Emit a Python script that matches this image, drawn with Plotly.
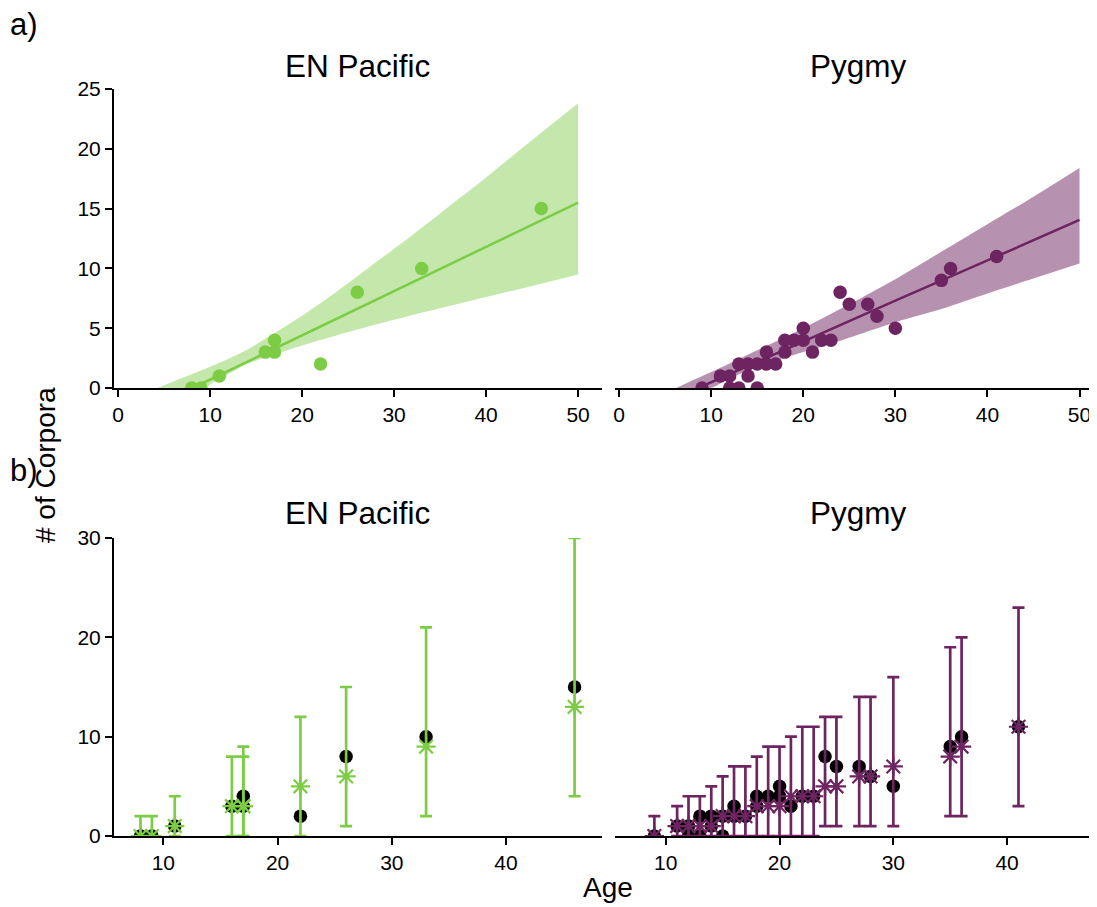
import plotly.graph_objects as go

# ---------------- data ----------------
# Panel a) observed corpora counts by age
en_age = [8, 9, 11, 16, 17, 17, 22, 26, 33, 46]
en_corpora = [0, 0, 1, 3, 4, 3, 2, 8, 10, 15]

pg_age = [9, 11, 12, 12, 13, 13, 14, 14, 15, 15, 16, 16, 17, 18, 18, 19, 20, 20,
          21, 22, 23, 24, 25, 27, 28, 30, 35, 36, 41]
pg_corpora = [0, 1, 1, 0, 0, 2, 2, 1, 0, 2, 3, 2, 2, 4, 3, 4, 5, 4,
              3, 4, 4, 8, 7, 7, 6, 5, 9, 10, 11]

# fitted lines
en_fit_age = [8.1, 20, 30, 40, 50]
en_fit = [0, 4.4, 8.1, 11.8, 15.5]
pg_fit_age = [8.6, 20, 30, 41, 50]
pg_fit = [0, 3.9, 7.3, 11.0, 14.05]

# confidence bands
en_band_age = [4.3, 6, 8, 9.5, 10, 12, 14, 17, 20, 24, 28, 32, 36, 40, 44, 50]
en_band_lo = [0, 0, 0, 0, 0.3, 1.15, 2.0, 2.8, 3.55, 4.45, 5.3, 6.1, 6.85, 7.6, 8.35, 9.5]
en_band_hi = [0, 0.55, 1.15, 1.6, 1.78, 2.45, 3.2, 4.6, 6.05, 8.2, 10.5, 12.8, 15.2, 17.6, 20.1, 23.8]

pg_band_age = [6.2, 8, 9.9, 12, 15, 20, 24, 30, 35, 40, 45, 50]
pg_band_lo = [0, 0, 0, 0.8, 1.75, 3.0, 3.95, 5.5, 6.6, 7.9, 9.15, 10.4]
pg_band_hi = [0, 0.65, 1.3, 2.05, 3.15, 5.0, 6.6, 9.1, 11.4, 13.7, 16.0, 18.4]

# Panel b) predicted values with intervals
en_pred = [0, 0, 1, 3, 3, 3, 5, 6, 9, 13]
en_pred_lo = [0, 0, 0, 0, 0, 0, 0, 1, 2, 4]
en_pred_hi = [2, 2, 4, 8, 9, 8, 12, 15, 21, 30]

pg_pred_age = [9, 11, 12, 13, 14, 15, 16, 17, 18, 19, 20, 21, 22, 23, 24, 25, 27, 28, 30, 35, 36, 41]
pg_pred = [0, 1, 1, 1, 1, 2, 2, 2, 3, 3, 3, 4, 4, 4, 5, 5, 6, 6, 7, 8, 9, 11]
pg_pred_lo = [0, 0, 0, 0, 0, 0, 0, 0, 0, 0, 0, 0, 0, 0, 1, 1, 1, 1, 1, 2, 2, 3]
pg_pred_hi = [2, 3, 4, 4, 5, 6, 7, 7, 8, 9, 9, 10, 11, 11, 12, 12, 14, 14, 16, 19, 20, 23]

titles = ["EN Pacific", "Pygmy"]
top_xticks = [0, 10, 20, 30, 40, 50]
top_yticks = [0, 5, 10, 15, 20, 25]
bot_xticks = [10, 20, 30, 40]
bot_yticks = [0, 10, 20, 30]

# ---------------- style ----------------
GREEN = "#7ccc45"
GREEN_FILL = "rgba(124,204,69,0.45)"
PURPLE = "#6d2461"
PURPLE_FILL = "rgba(109,36,97,0.5)"
FONT = "Liberation Sans, Arial, Helvetica, sans-serif"

# the page body has an 8px margin; size the figure so it fills the 1097x907 window
OFF = 8
W, H = 1097 - OFF, 907 - OFF


def fx(px):  # screen pixel -> paper x
    return (px - OFF) / W


def fy(py):  # screen pixel -> paper y
    return 1 - (py - OFF) / H


fig = go.Figure()


def band(xs, lo, hi, fill, xa, ya):
    fig.add_trace(go.Scatter(x=xs, y=lo, mode="lines",
                             line=dict(width=0, shape="spline", smoothing=0.8),
                             xaxis=xa, yaxis=ya, showlegend=False, hoverinfo="skip"))
    fig.add_trace(go.Scatter(x=xs, y=hi, mode="lines",
                             line=dict(width=0, shape="spline", smoothing=0.8),
                             fill="tonexty", fillcolor=fill,
                             xaxis=xa, yaxis=ya, showlegend=False, hoverinfo="skip"))


# a) EN Pacific
band(en_band_age, en_band_lo, en_band_hi, GREEN_FILL, "x", "y")
fig.add_trace(go.Scatter(x=en_fit_age, y=en_fit, mode="lines",
                         line=dict(color=GREEN, width=2.5), xaxis="x", yaxis="y", showlegend=False))
fig.add_trace(go.Scatter(x=en_age, y=en_corpora, mode="markers",
                         marker=dict(color=GREEN, size=13.5), xaxis="x", yaxis="y", showlegend=False))

# a) Pygmy
band(pg_band_age, pg_band_lo, pg_band_hi, PURPLE_FILL, "x2", "y2")
fig.add_trace(go.Scatter(x=pg_fit_age, y=pg_fit, mode="lines",
                         line=dict(color=PURPLE, width=2.5), xaxis="x2", yaxis="y2", showlegend=False))
fig.add_trace(go.Scatter(x=pg_age, y=pg_corpora, mode="markers",
                         marker=dict(color=PURPLE, size=13.5), xaxis="x2", yaxis="y2", showlegend=False))

# b) EN Pacific
fig.add_trace(go.Scatter(x=en_age, y=en_corpora, mode="markers",
                         marker=dict(color="black", size=13.5), xaxis="x3", yaxis="y3", showlegend=False))
fig.add_trace(go.Scatter(
    x=en_age, y=en_pred, mode="markers",
    marker=dict(symbol="asterisk-open", size=16, color=GREEN, line=dict(color=GREEN, width=2.2)),
    error_y=dict(type="data", symmetric=False,
                 array=[h - p for h, p in zip(en_pred_hi, en_pred)],
                 arrayminus=[p - l for p, l in zip(en_pred, en_pred_lo)],
                 color=GREEN, thickness=2.7, width=6),
    xaxis="x3", yaxis="y3", showlegend=False))

# b) Pygmy
fig.add_trace(go.Scatter(x=pg_age, y=pg_corpora, mode="markers",
                         marker=dict(color="black", size=13.5), xaxis="x4", yaxis="y4", showlegend=False))
fig.add_trace(go.Scatter(
    x=pg_pred_age, y=pg_pred, mode="markers",
    marker=dict(symbol="asterisk-open", size=16, color=PURPLE, line=dict(color=PURPLE, width=2.2)),
    error_y=dict(type="data", symmetric=False,
                 array=[h - p for h, p in zip(pg_pred_hi, pg_pred)],
                 arrayminus=[p - l for p, l in zip(pg_pred, pg_pred_lo)],
                 color=PURPLE, thickness=2.7, width=6),
    xaxis="x4", yaxis="y4", showlegend=False))

# ---------------- layout ----------------
left_dom = [fx(114), fx(602)]
right_dom = [fx(615), 1.0]
top_dom = [fy(388), fy(89)]
bot_dom = [fy(836), fy(538)]

axis_common = dict(showline=True, linecolor="black", linewidth=2, ticks="outside",
                   ticklen=7, tickwidth=2, tickcolor="black", showgrid=False, zeroline=False,
                   automargin=False,
                   tickfont=dict(family=FONT, size=21, color="black"))
y_hidden = dict(showline=False, showticklabels=False, ticks="", showgrid=False,
                zeroline=False, automargin=False)

fig.update_layout(
    template="none",
    width=W, height=H, margin=dict(l=0, r=0, t=0, b=0, pad=0), autosize=False,
    paper_bgcolor="white", plot_bgcolor="white", showlegend=False,
    xaxis=dict(domain=left_dom, anchor="y", range=[-0.45, 52.6], tickvals=top_xticks, **axis_common),
    yaxis=dict(domain=top_dom, anchor="x", range=[0, 25], tickvals=top_yticks, **axis_common),
    xaxis2=dict(domain=right_dom, anchor="y2", range=[-0.45, 51.9], tickvals=top_xticks, **axis_common),
    yaxis2=dict(domain=top_dom, anchor="x2", range=[0, 25], **y_hidden),
    xaxis3=dict(domain=left_dom, anchor="y3", range=[5.68, 48.4], tickvals=bot_xticks, **axis_common),
    yaxis3=dict(domain=bot_dom, anchor="x3", range=[0, 30], tickvals=bot_yticks, **axis_common),
    xaxis4=dict(domain=right_dom, anchor="y4", range=[5.54, 47.9], tickvals=bot_xticks, **axis_common),
    yaxis4=dict(domain=bot_dom, anchor="x4", range=[0, 30], **y_hidden),
)

ann = []


def txt(text, px, py, size, angle=0, xanchor="center"):
    ann.append(dict(text=text, x=fx(px), y=fy(py), xref="paper", yref="paper",
                    showarrow=False, xanchor=xanchor, yanchor="middle", textangle=angle,
                    font=dict(family=FONT, size=size, color="black")))


txt("a)", 8, 24, 31, xanchor="left")
txt("b)", 8, 470, 31, xanchor="left")
txt(titles[0], 357, 66, 31.5)
txt(titles[1], 858, 66, 31.5)
txt(titles[0], 357, 513, 31.5)
txt(titles[1], 858, 513, 31.5)
txt("# of Corpora", 45, 465, 28, angle=-90)
txt("Age", 608, 887, 28)
fig.update_layout(annotations=ann)

fig.write_html("out.html")
